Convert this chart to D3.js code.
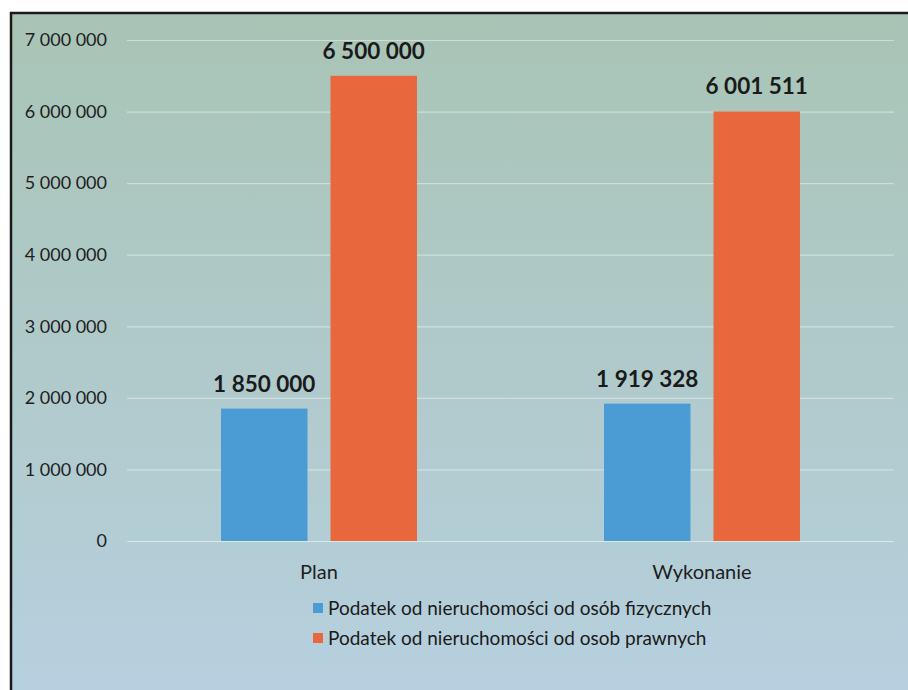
<!DOCTYPE html>
<html>
<head>
<meta charset="utf-8">
<script src="https://cdn.jsdelivr.net/npm/d3@7"></script>
<style>
  body { margin: 0; background: #fff; }
  svg { display: block; font-family: Lato, "Open Sans", sans-serif; }
</style>
</head>
<body>
<svg class="chart" width="908" height="690"></svg>
<script>
// data
const categories = ["Plan", "Wykonanie"];
const seriesNames = [
  "Podatek od nieruchomości od osób fizycznych",
  "Podatek od nieruchomości od osob prawnych"
];
const fizyczne = [1850000, 1919328];
const prawne = [6500000, 6001511];
const yTicks = [0, 1000000, 2000000, 3000000, 4000000, 5000000, 6000000, 7000000];
const colors = ["#4b9cd5", "#e9673c"];

const svg = d3.select(".chart");
const W = 908, H = 690;

// background gradient of the scanned frame
const defs = svg.append("defs");
const grad = defs.append("linearGradient")
  .attr("id", "bg").attr("x1", 0).attr("y1", 0).attr("x2", 0).attr("y2", 1);
grad.append("stop").attr("offset", "0%").attr("stop-color", "#a9c4b5");
grad.append("stop").attr("offset", "45%").attr("stop-color", "#afc9c8");
grad.append("stop").attr("offset", "100%").attr("stop-color", "#b6d0df");

svg.append("rect").attr("x", 10).attr("y", 12).attr("width", W - 10).attr("height", H - 12)
  .attr("fill", "url(#bg)");

// frame lines (top and left)
svg.append("line").attr("x1", 10).attr("x2", W).attr("y1", 13).attr("y2", 13)
  .attr("stroke", "#1a1a1a").attr("stroke-width", 2.5);
svg.append("line").attr("x1", 11).attr("x2", 11).attr("y1", 12).attr("y2", H)
  .attr("stroke", "#1a1a1a").attr("stroke-width", 2.5);

const x0 = d3.scaleBand().domain(categories).range([127.5, 893.5]).paddingInner(0).paddingOuter(0);
const x1 = d3.scaleBand().domain([0, 1]).range([0, 196]).paddingInner(0.21).paddingOuter(0);
const y = d3.scaleLinear().domain([0, 7000000]).range([541, 40]);

const fmt = v => d3.format(",")(v).replace(/,/g, " ");

// gridlines + y labels
const yAxis = svg.append("g").attr("transform", "translate(127,0)")
  .call(d3.axisLeft(y).tickValues(yTicks).tickSize(-767).tickFormat(fmt).tickPadding(20))
  .attr("font-family", null);
yAxis.select(".domain").remove();
yAxis.selectAll(".tick line").attr("stroke", "#e2ebe8").attr("stroke-opacity", 0.65).attr("stroke-width", 1.2);
yAxis.selectAll(".tick text").attr("fill", "#1e1e1e").attr("font-size", 18);

const rows = categories.map((c, i) => ({ cat: c, vals: [fizyczne[i], prawne[i]] }));

const groups = svg.selectAll("g.grp").data(rows).enter().append("g")
  .attr("class", "grp")
  .attr("transform", d => `translate(${x0(d.cat) + (x0.bandwidth() - 196) / 2},0)`);

groups.selectAll("rect").data(d => d.vals).enter().append("rect")
  .attr("x", (d, i) => x1(i))
  .attr("width", x1.bandwidth())
  .attr("y", d => y(d))
  .attr("height", d => y(0) - y(d))
  .attr("fill", (d, i) => colors[i]);

groups.selectAll("text.val").data(d => d.vals).enter().append("text")
  .attr("class", "val")
  .attr("x", (d, i) => x1(i) + x1.bandwidth() / 2)
  .attr("y", d => y(d) - 17)
  .attr("text-anchor", "middle")
  .attr("font-size", 22.5).attr("font-weight", "bold").attr("fill", "#1a1a1a")
  .text(fmt);

// category labels
const xAxis = svg.append("g").attr("transform", "translate(0,541)")
  .call(d3.axisBottom(x0).tickSize(0).tickPadding(24))
  .attr("font-family", null);
xAxis.select(".domain").attr("stroke", "#e2ebe8").attr("stroke-opacity", 0.65);
xAxis.selectAll(".tick text").attr("fill", "#1e1e1e").attr("font-size", 20);

// legend
const legend = svg.append("g").attr("transform", "translate(313,603)");
const li = legend.selectAll("g").data(seriesNames).enter().append("g")
  .attr("transform", (d, i) => `translate(0,${i * 30})`);
li.append("rect").attr("x", 0).attr("y", 0).attr("width", 10).attr("height", 10)
  .attr("fill", (d, i) => colors[i]);
li.append("text").attr("x", 15).attr("y", 5).attr("dy", "0.35em")
  .attr("font-size", 19).attr("fill", "#1a1a1a").text(d => d);
</script>
</body>
</html>
